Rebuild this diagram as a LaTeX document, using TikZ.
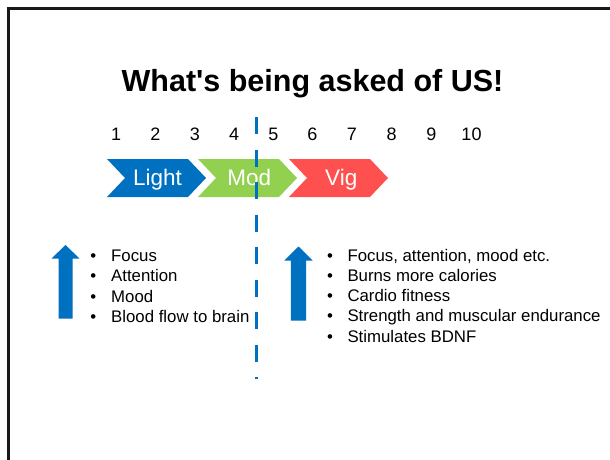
\documentclass[tikz,border=0pt]{standalone}
\usepackage{fontspec}
\setmainfont{Liberation Sans}
\definecolor{pblue}{HTML}{0070C0}
\definecolor{pgreen}{HTML}{92D050}
\definecolor{pred}{HTML}{FF5050}
\begin{document}
\begin{tikzpicture}[x=1pt,y=-1pt,
  title/.style={anchor=base,inner sep=0pt,font=\fontsize{30.5}{34}\selectfont\bfseries},
  num/.style={anchor=base,inner sep=0pt,font=\fontsize{18}{20}\selectfont},
  chevtext/.style={anchor=base,inner sep=0pt,text=white,font=\fontsize{22.5}{26}\selectfont},
  item/.style={anchor=base west,inner sep=0pt,font=\fontsize{16.8}{20}\selectfont},
  dot/.style={anchor=base,inner sep=0pt,font=\fontsize{16.8}{20}\selectfont},
  uparrow/.style={fill=pblue,draw=none},
  divider/.style={draw=pblue,line width=3pt,dash pattern=on 17pt off 15.5pt}]
\useasboundingbox (0,0) rectangle (610,459);
\fill[white] (0,0) rectangle (610,459);
% frame
\draw[line width=2.5pt,black!90] (8.5,8.5) rectangle (640,480);
% title
\node[title] (ttl) at (312.5,91.5) {What\textquotesingle s being asked of US!};
% numbers
\node[num] (n1) at (116.2,140) {1};
\node[num] (n2) at (155.5,140) {2};
\node[num] (n3) at (194.8,140) {3};
\node[num] (n4) at (234.1,140) {4};
\node[num] (n5) at (273.4,140) {5};
\node[num] (n6) at (312.5,140) {6};
\node[num] (n7) at (351.9,140) {7};
\node[num] (n8) at (391.7,140) {8};
\node[num] (n9) at (431.3,140) {9};
\node[num] (n10) at (471.5,140) {10};
% chevrons
\fill[pblue] (107,159) -- (188,159) -- (206,178) -- (188,197) -- (107,197) -- (125,178) -- cycle;
\fill[pgreen] (198,159) -- (279,159) -- (297,178) -- (279,197) -- (198,197) -- (216,178) -- cycle;
\fill[pred] (289,159) -- (370,159) -- (388,178) -- (370,197) -- (289,197) -- (307,178) -- cycle;
\node[chevtext] (light) at (157.5,185) {Light};
\node[chevtext] (mod) at (249.2,185) {Mod};
\node[chevtext] (vig) at (341.3,185) {Vig};
% divider
\coordinate (dtop) at (256,117);
\coordinate (dbot) at (256,379);
\draw[divider] (dtop) -- (dbot);
% arrows
\fill[uparrow] (65.5,245) -- (79.5,258.5) -- (72.5,258.5) -- (72.5,318.5) -- (58.5,318.5) -- (58.5,258.5) -- (51.5,258.5) -- cycle;
\fill[uparrow] (298.5,246.5) -- (312.7,260.5) -- (306.2,260.5) -- (306.2,320.7) -- (290.8,320.7) -- (290.8,260.5) -- (284.3,260.5) -- cycle;
% left list
\node[dot] (lb1) at (93.3,261) {•};
\node[dot] (lb2) at (93.3,281.5) {•};
\node[dot] (lb3) at (93.3,302) {•};
\node[dot] (lb4) at (93.3,322.5) {•};
\node[item] (l1) at (111,261) {Focus};
\node[item] (l2) at (111,281.5) {Attention};
\node[item] (l3) at (111,302) {Mood};
\node[item] (l4) at (111,322.5) {Blood flow to brain};
% right list
\node[dot] (rb1) at (330,261) {•};
\node[dot] (rb2) at (330,281.3) {•};
\node[dot] (rb3) at (330,301.6) {•};
\node[dot] (rb4) at (330,321.9) {•};
\node[dot] (rb5) at (330,342.2) {•};
\node[item] (r1) at (347.3,261) {Focus, attention, mood etc.};
\node[item] (r2) at (347.3,281.3) {Burns more calories};
\node[item] (r3) at (347.3,301.6) {Cardio fitness};
\node[item] (r4) at (347.3,321.9) {Strength and muscular endurance};
\node[item] (r5) at (347.3,342.2) {Stimulates BDNF};
\end{tikzpicture}
\end{document}
